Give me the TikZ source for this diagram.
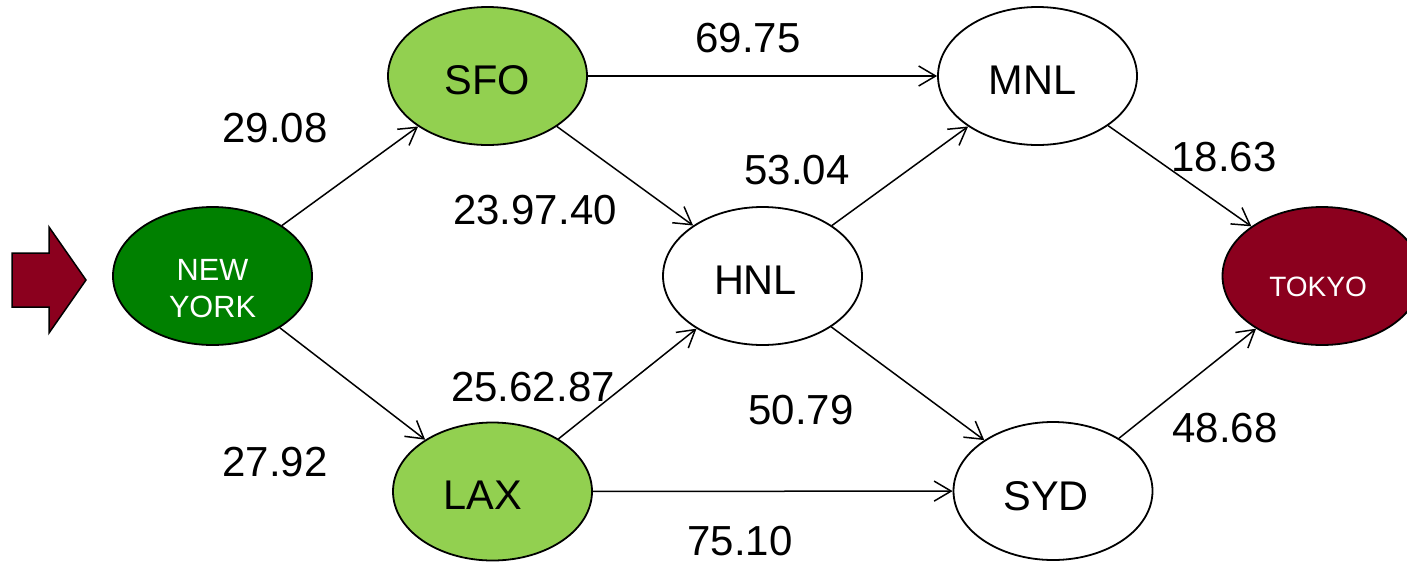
\documentclass[tikz,border=0pt]{standalone}
\usepackage{fontspec}
\setmainfont{Liberation Sans}
\usetikzlibrary{arrows.meta,shapes.geometric}
\definecolor{nygreen}{RGB}{0,128,0}
\definecolor{hubgreen}{RGB}{146,208,80}
\definecolor{tkred}{RGB}{139,0,30}
\begin{document}
\begin{tikzpicture}[x=1pt,y=-1pt,
  city/.style={ellipse, draw, line width=1.8pt, minimum width=199pt, minimum height=138pt, inner sep=0pt},
  bigtxt/.style={font=\fontsize{41.5}{49}\selectfont, inner sep=0pt},
  whitetxt/.style={text=white, align=center, inner sep=0pt},
  wt/.style={font=\fontsize{42}{50}\selectfont, inner sep=0pt},
  flow/.style={line width=1.5pt, -{Straight Barb[length=17pt,width=20pt]}}]
\useasboundingbox (0,0) rectangle (1407,563);

% entry arrow
\draw[line width=1.5pt, fill=tkred] (12,253) -- (49,253) -- (49,227) -- (86,280)
  -- (49,333) -- (49,307) -- (12,307) -- cycle;

% cities
\node[city, fill=nygreen] (ny) at (212.5,276) {};
\node[whitetxt, font=\fontsize{30.7}{37}\selectfont] (nyt) at (212.5,288.5) {NEW\\YORK};
\node[city, fill=hubgreen] (sfo) at (487.5,76) {};
\node[bigtxt] (sfot) at (487.5,80) {SFO};
\node[city, fill=hubgreen] (lax) at (492.5,491.5) {};
\node[bigtxt] (laxt) at (482.5,495) {LAX};
\node[city, fill=white] (hnl) at (762.5,276) {};
\node[bigtxt] (hnlt) at (755.5,280) {HNL};
\node[city, fill=white] (mnl) at (1037.5,76) {};
\node[bigtxt] (mnlt) at (1032.5,80) {MNL};
\node[city, fill=white] (syd) at (1053,491) {};
\node[bigtxt] (sydt) at (1046,496) {SYD};
\node[city, fill=tkred] (tyo) at (1322,276) {};
\node[whitetxt, font=\fontsize{28}{34}\selectfont] (tyot) at (1318,287) {TOKYO};

% connectors
\draw[flow] (ny) -- (sfo);
\draw[flow] (ny) -- (lax);
\draw[flow] (sfo) -- (mnl);
\draw[flow] (sfo) -- (hnl);
\draw[flow] (lax) -- (hnl);
\draw[flow] (lax) -- (syd);
\draw[flow] (hnl) -- (mnl);
\draw[flow] (hnl) -- (syd);
\draw[flow] (mnl) -- (tyo);
\draw[flow] (syd) -- (tyo);

% weights
\node[wt] (w1) at (275,128) {29.08};
\node[wt] (w2) at (275,462) {27.92};
\node[wt] (w3) at (748,38) {69.75};
\node[wt] (w4) at (535,210) {23.97.40};
\node[wt] (w5) at (797,170) {53.04};
\node[wt] (w6) at (533,387) {25.62.87};
\node[wt] (w7) at (801,410) {50.79};
\node[wt] (w8) at (740,541) {75.10};
\node[wt] (w9) at (1224,157) {18.63};
\node[wt] (w10) at (1225,428) {48.68};
\end{tikzpicture}
\end{document}
